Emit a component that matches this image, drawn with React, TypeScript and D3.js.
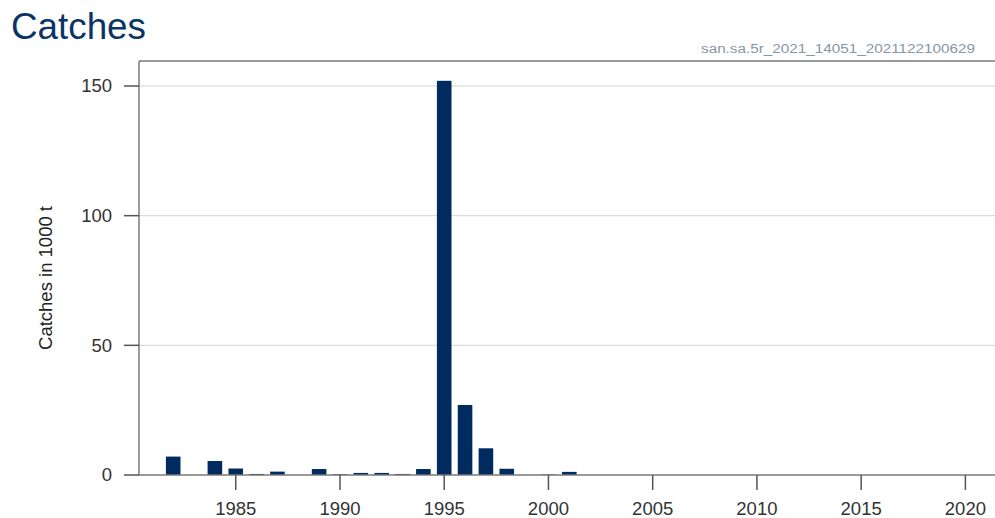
import React from "react";
import * as d3 from "d3";

const years: number[] = [
  1982, 1983, 1984, 1985, 1986, 1987, 1988, 1989, 1990, 1991, 1992, 1993, 1994,
  1995, 1996, 1997, 1998, 1999, 2000, 2001, 2002, 2003, 2004, 2005, 2006, 2007,
  2008, 2009, 2010, 2011, 2012, 2013, 2014, 2015, 2016, 2017, 2018, 2019, 2020,
];
const catches: number[] = [
  7.1, 0, 5.4, 2.5, 0.4, 1.3, 0, 2.3, 0.3, 0.8, 0.8, 0.4, 2.3,
  152, 27, 10.3, 2.4, 0, 0.2, 1.2, 0, 0, 0, 0, 0, 0,
  0, 0, 0, 0, 0, 0, 0, 0, 0, 0, 0, 0, 0,
];
const xTicks: number[] = [1985, 1990, 1995, 2000, 2005, 2010, 2015, 2020];
const yTicks: number[] = [0, 50, 100, 150];
const title = "Catches";
const subtitle = "san.sa.5r_2021_14051_2021122100629";
const yLabel = "Catches in 1000 t";

const W = 995;
const H = 518;
const FONT = "'Liberation Sans', Arial, Helvetica, sans-serif";

export default function App() {
  const left = 139;
  const right = 995;
  const top = 61;
  const bottom = 475;
  const x = d3.scaleLinear().domain([1980.36, 2021.42]).range([left, right]);
  const y = d3.scaleLinear().domain([0, 150]).range([bottom, 86]);
  const step = x(1) - x(0);
  const bw = step * 0.7;

  return (
    <div style={{ position: "fixed", left: 0, top: 0, width: W, height: H, background: "#fff" }}>
      <svg width={W} height={H} style={{ display: "block", fontFamily: FONT }}>
        <rect x={0} y={0} width={W} height={H} fill="#fff" />
        <text x={11} y={39} fontSize={36} fill="#0b3466" textLength={135} lengthAdjust="spacingAndGlyphs">{title}</text>
        <text
          x={975}
          y={53}
          fontSize={12.5}
          fill="#8a96a3"
          textAnchor="end"
          textLength={274}
          lengthAdjust="spacingAndGlyphs"
        >
          {subtitle}
        </text>
        {yTicks.filter((t) => t > 0).map((t) => (
          <line key={"g" + t} x1={left} x2={right} y1={y(t)} y2={y(t)} stroke="#d4d4d4" strokeWidth={1} />
        ))}
        {years.map((yr, i) =>
          catches[i] > 0 ? (
            <rect
              key={yr}
              x={x(yr) - bw / 2}
              y={y(catches[i])}
              width={bw}
              height={y(0) - y(catches[i])}
              fill="#002b5e"
            />
          ) : null
        )}
        <line x1={left} x2={right} y1={top} y2={top} stroke="#7a7a7a" strokeWidth={1.5} />
        <line x1={left} x2={left} y1={top} y2={bottom} stroke="#7a7a7a" strokeWidth={1.5} />
        <line x1={left - 1} x2={right} y1={bottom} y2={bottom} stroke="#7a7a7a" strokeWidth={1.5} />
        {yTicks.map((t) => (
          <g key={"y" + t}>
            <line x1={left - 15} x2={left} y1={y(t)} y2={y(t)} stroke="#555" strokeWidth={1.5} />
            <text x={112} y={y(t)} dy="0.35em" fontSize={18.5} fill="#333" textAnchor="end">
              {t}
            </text>
          </g>
        ))}
        {xTicks.map((t) => (
          <g key={"x" + t}>
            <line x1={x(t)} x2={x(t)} y1={bottom} y2={bottom + 15} stroke="#555" strokeWidth={1.5} />
            <text x={x(t)} y={515} fontSize={18.5} fill="#333" textAnchor="middle">
              {t}
            </text>
          </g>
        ))}
        <text
          transform={`translate(52, ${(top + bottom) / 2 + 10}) rotate(-90)`}
          fontSize={18.5}
          fill="#222"
          textAnchor="middle"
        >
          {yLabel}
        </text>
      </svg>
    </div>
  );
}
